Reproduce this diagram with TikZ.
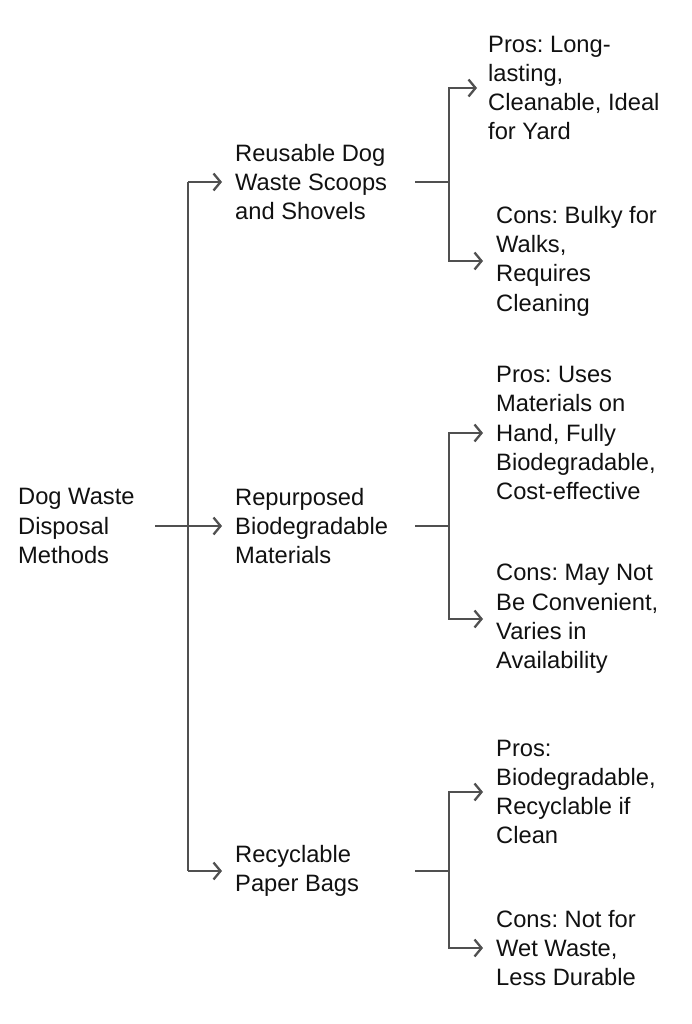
\documentclass[tikz,border=0pt]{standalone}
\usepackage{fontspec}
\setmainfont{Liberation Sans}
\usetikzlibrary{arrows.meta}
\definecolor{linegray}{HTML}{505050}
\definecolor{txtcol}{HTML}{111111}
\begin{document}
\frenchspacing
\begin{tikzpicture}[x=1pt,y=-1pt,
 txt/.style={anchor=west,align=left,inner sep=0pt,text=txtcol,font=\fontsize{23.7}{29.3}\selectfont},
 conn/.style={draw=linegray,line width=2.3pt},
 arr/.style={conn,-{Straight Barb[length=7pt,width=17pt,line width=2.3pt]}}]
\useasboundingbox (0,0) rectangle (692,1024);
% nodes
\node[txt] (root) at (18,526) {Dog Waste\\Disposal\\Methods};
\node[txt] (a) at (235,182) {Reusable Dog\\Waste Scoops\\and Shovels};
\node[txt] (b) at (235,526) {Repurposed\\Biodegradable\\Materials};
\node[txt] (c) at (235,871) {Recyclable\\Paper Bags};
\node[txt] (ap) at (488,88) {Pros: Long-\\lasting,\\Cleanable, Ideal\\for Yard};
\node[txt] (ac) at (496,261) {Cons: Bulky for\\Walks,\\Requires\\Cleaning};
\node[txt] (bp) at (496,433) {Pros: Uses\\Materials on\\Hand, Fully\\Biodegradable,\\Cost-effective};
\node[txt] (bc) at (496,619) {Cons: May Not\\Be Convenient,\\Varies in\\Availability};
\node[txt] (cp) at (496,792) {Pros:\\Biodegradable,\\Recyclable if\\Clean};
\node[txt] (cc) at (496,948) {Cons: Not for\\Wet Waste,\\Less Durable};
% coordinates
\coordinate (rs) at (155,526);
\coordinate (ta) at (188,182);
\coordinate (tc) at (188,871);
\coordinate (as) at (415,182);
\coordinate (aj) at (449,182);
\coordinate (bs) at (415,526);
\coordinate (bj) at (449,526);
\coordinate (cs) at (415,871);
\coordinate (cj) at (449,871);
% connectors
\draw[conn] (ta) -- (tc);
\draw[arr] (rs) -- ([xshift=-13pt]b.west);
\draw[arr] (ta) -- ([xshift=-13pt]a.west);
\draw[arr] (tc) -- ([xshift=-13pt]c.west);
\draw[conn] (as) -- (aj);
\draw[arr] (aj) |- ([xshift=-11pt]ap.west);
\draw[arr] (aj) |- ([xshift=-13pt]ac.west);
\draw[conn] (bs) -- (bj);
\draw[arr] (bj) |- ([xshift=-13pt]bp.west);
\draw[arr] (bj) |- ([xshift=-13pt]bc.west);
\draw[conn] (cs) -- (cj);
\draw[arr] (cj) |- ([xshift=-13pt]cp.west);
\draw[arr] (cj) |- ([xshift=-13pt]cc.west);
\end{tikzpicture}
\end{document}
